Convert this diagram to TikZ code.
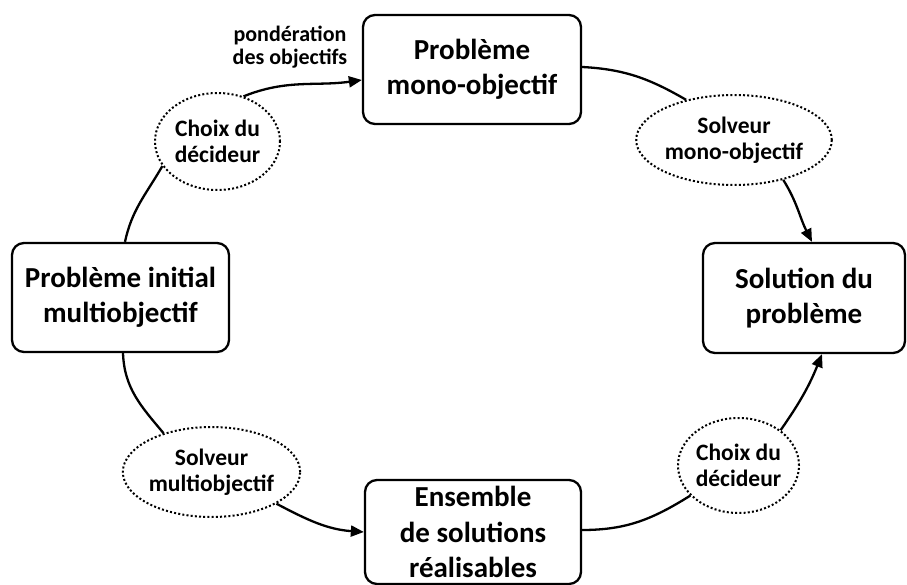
\documentclass[tikz,border=0pt]{standalone}
\usepackage{fontspec}
\setmainfont{Carlito}
\usetikzlibrary{arrows.meta,shapes.geometric}
\tikzset{
  box/.style={draw, line width=2.3pt, rounded corners=12pt, align=center, inner sep=0pt,
    font=\fontsize{29}{35.5}\selectfont\bfseries},
  oval/.style={draw, ellipse, line width=2pt, dash pattern=on 2pt off 2.2pt, align=center, inner sep=0pt,
    font=\fontsize{23.5}{25.5}\selectfont\bfseries},
  lab/.style={align=center, font=\fontsize{22}{23}\selectfont\bfseries},
  conn/.style={line width=2.3pt},
  arr/.style={line width=2.3pt, -{Triangle[length=13pt,width=11pt]}}
}
\begin{document}
\begin{tikzpicture}[x=1pt,y=-1pt]
\useasboundingbox (0,0) rectangle (907,585);
\node[box, minimum width=218pt, minimum height=109pt] (mono) at (472,69.5) {Problème\\mono-objectif};
\node[box, minimum width=217pt, minimum height=109pt] (init) at (120.5,297.5) {Problème initial\\multiobjectif};
\node[box, minimum width=202pt, minimum height=110pt] (sol) at (804,298) {Solution du\\problème};
\node[box, minimum width=216pt, minimum height=104pt] (ens) at (473,532) {Ensemble\\de solutions\\réalisables};
\node[oval, minimum width=125pt, minimum height=97pt] (e1) at (217.5,141.5) {Choix du\\décideur};
\node[oval, minimum width=148pt, minimum height=90pt] (e2) at (734,140) {Solveur\\mono-objectif};
\node[oval, minimum width=147pt, minimum height=90pt] (e3) at (211.5,472) {Solveur\\multiobjectif};
\node[oval, minimum width=121pt, minimum height=95pt] (e4) at (738.5,465.5) {Choix du\\décideur};
\node[lab] (pl) at (290,47) {pondération\\des objectifs};
\draw[conn] ([xshift=4.5pt]init.north) to[out=78,in=240] (e1.204);
\draw[arr] (e1.60) to[out=22,in=188] ([yshift=-10.5pt]mono.west);
\draw[conn] ([yshift=2.5pt]mono.east) to[out=-3,in=150] (e2.140);
\draw[arr] (e2.-39) to[out=-58,in=117] ([xshift=8pt]sol.north);
\draw[conn] ([xshift=2.5pt]init.south) to[out=-88,in=130] (e3.141);
\draw[arr] (e3.-26) to[out=-28,in=176] (ens.west);
\draw[conn] ([yshift=2pt]ens.east) to[out=0,in=212] (e4.212);
\draw[arr] (e4.40) to[out=55,in=-112] ([xshift=18pt]sol.south);
\end{tikzpicture}
\end{document}
